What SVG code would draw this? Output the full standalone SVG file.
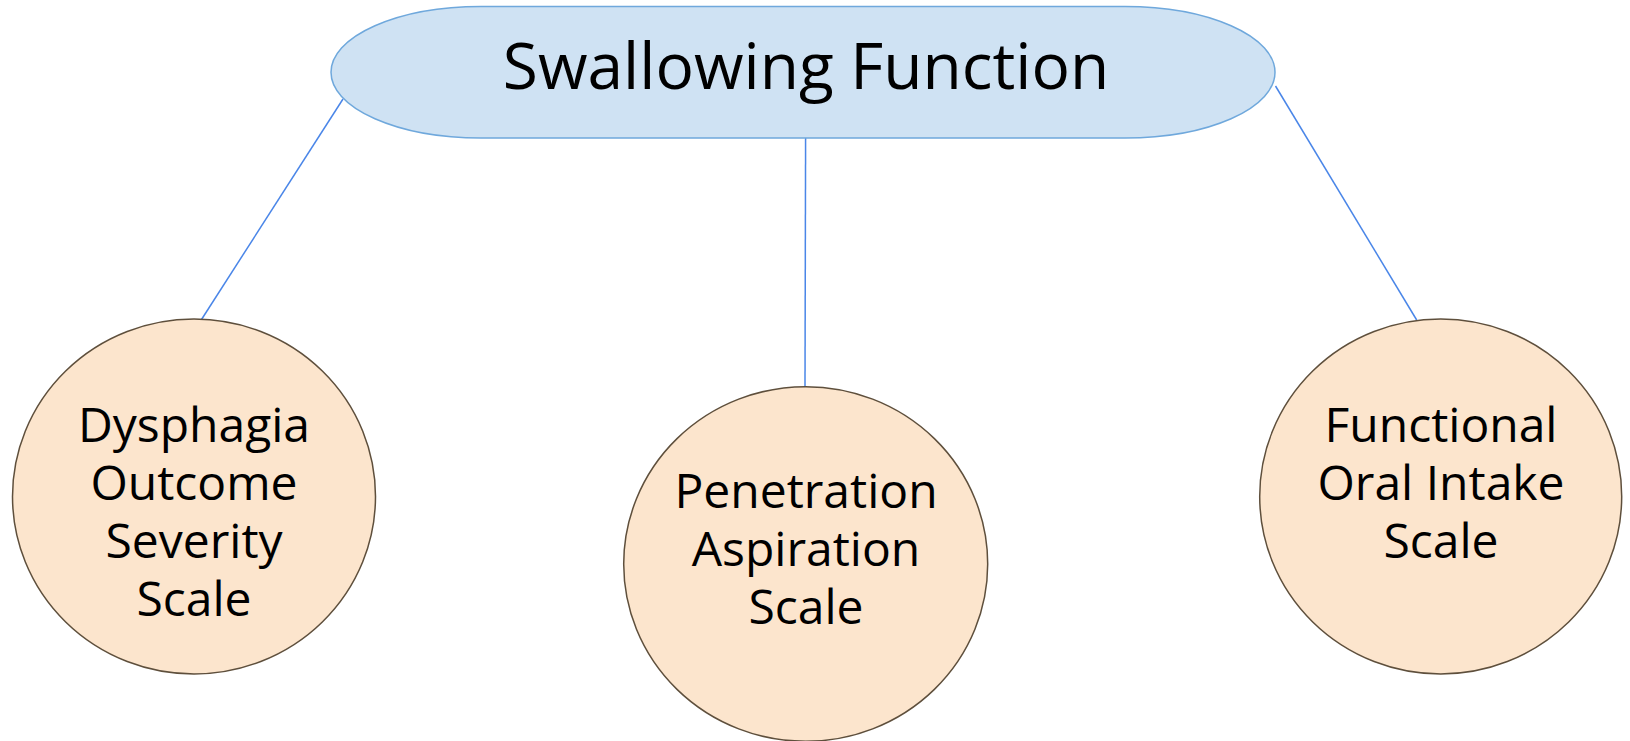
<svg xmlns="http://www.w3.org/2000/svg" width="1630" height="741" viewBox="0 0 1630 741">
<style>
.conn{stroke:#4a86e8;stroke-width:1.5;fill:none}
.top{fill:#cfe2f3;stroke:#6fa8dc;stroke-width:1.5}
.leaf{fill:#fce5cd;stroke:#5e4f3c;stroke-width:1.5}
text{font-family:"Open Sans","Noto Sans",sans-serif;fill:#000;text-anchor:middle}
.t1{font-size:64px}
.t2{font-size:48px}
</style>
<rect width="1630" height="741" fill="#fff"/>
<g id="connectors">
<line class="conn" x1="343" y1="99" x2="201.5" y2="319.5"/>
<line class="conn" x1="805.6" y1="138" x2="805" y2="387"/>
<line class="conn" x1="1275.5" y1="86" x2="1416.7" y2="320"/>
</g>
<g id="swallowing">
<rect class="top" x="331" y="6.5" width="944" height="131.5" rx="150" ry="65.75"/>
<text class="t1" x="806" y="89">Swallowing Function</text>
</g>
<g id="doss">
<ellipse class="leaf" cx="194" cy="496.5" rx="181.5" ry="177.5"/>
<text class="t2"><tspan x="194" y="441.7">Dysphagia</tspan><tspan x="194" y="500">Outcome</tspan><tspan x="194" y="558">Severity</tspan><tspan x="194" y="615.5">Scale</tspan></text>
</g>
<g id="pas">
<ellipse class="leaf" cx="805.7" cy="564" rx="182" ry="177.3"/>
<text class="t2"><tspan x="806" y="508">Penetration</tspan><tspan x="806" y="566">Aspiration</tspan><tspan x="806" y="624">Scale</tspan></text>
</g>
<g id="fois">
<ellipse class="leaf" cx="1440.7" cy="496.5" rx="181" ry="177.5"/>
<text class="t2"><tspan x="1441" y="441.7">Functional</tspan><tspan x="1441" y="500">Oral Intake</tspan><tspan x="1441" y="558.3">Scale</tspan></text>
</g>
</svg>
